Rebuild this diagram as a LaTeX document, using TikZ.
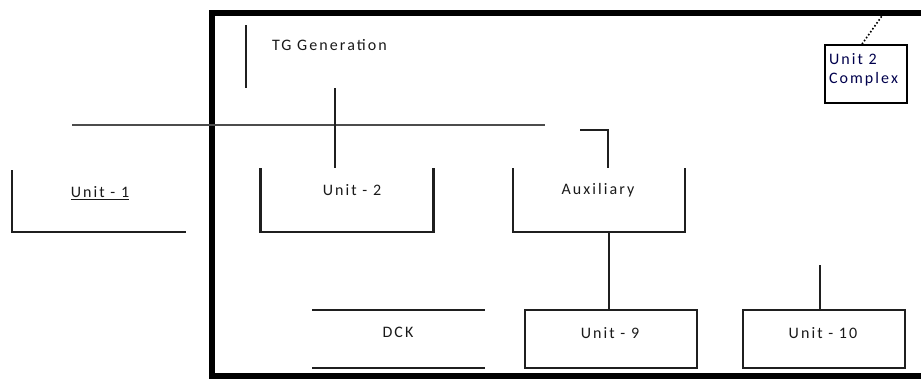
\documentclass[tikz,border=0pt]{standalone}
\usepackage{fontspec}
\setmainfont[LetterSpace=13]{Carlito}
\begin{document}
\begin{tikzpicture}[x=1pt,y=-1pt,
  lbl/.style={inner sep=0pt, outer sep=0pt, font=\fontsize{16}{19}\selectfont, text=black!90},
  frame/.style={line width=6pt, black},
  side/.style={line width=2.2pt, black!88},
  link/.style={line width=2pt, black!88},
  bus/.style={line width=1.4pt, black!70},
  area/.style={draw=none, inner sep=0pt, outer sep=0pt}
]
\useasboundingbox (0,0) rectangle (921,381);

% outer plant frame (runs off the right edge)
\draw[frame] (935,13) -- (212,13) -- (212,376) -- (935,376);

% block areas
\node[area, minimum width=184pt, minimum height=63pt] (tg) at (338,56.5) {};
\node[area, minimum width=174pt, minimum height=62pt] (u1) at (99,201) {};
\node[area, minimum width=173pt, minimum height=64pt] (u2) at (347,200) {};
\node[area, minimum width=172pt, minimum height=64pt] (aux) at (599,200) {};
\node[area, minimum width=173pt, minimum height=58pt] (dck) at (398.5,339) {};
\node[area, minimum width=172pt, minimum height=58pt] (u9) at (611,339) {};
\node[area, minimum width=162pt, minimum height=58pt] (u10) at (824,339) {};
\node[draw, line width=1.8pt, minimum width=82pt, minimum height=58pt, inner sep=0pt] (cx) at (866,74) {};

% labels
\node[lbl, anchor=west] (tgt) at (272,45) {TG Generation};
\node[lbl] (u1t) at (100,193) {\underline{Unit - 1}};
\node[lbl] (u2t) at (352,190) {Unit - 2};
\node[lbl] (auxt) at (598,190) {Auxiliary};
\node[lbl] (dckt) at (398,332) {DCK};
\node[lbl] (u9t) at (610,333) {Unit - 9};
\node[lbl] (u10t) at (823,333) {Unit - 10};
\node[lbl, align=left, anchor=north west, text=black!70!blue] (cxt) at (829,53) {Unit 2\\Complex};

% partial outlines of the blocks
\draw[side] (tg.north west) -- (tg.south west);
\draw[side] (u1.north west) -- (u1.south west) -- (u1.south east);
\draw[side] (u2.north west) -- (u2.south west) -- (u2.south east) -- (u2.north east);
\draw[side] (aux.north west) -- (aux.south west) -- (aux.south east) -- (aux.north east);
\draw[side] (dck.north west) -- (dck.north east);
\draw[side] (dck.south west) -- (dck.south east);
\draw[side] (u9.north west) rectangle (u9.south east);
\draw[side] (u10.north west) rectangle (u10.south east);

% free ends of the connectors
\coordinate (busL) at (72,125);
\coordinate (busR) at (545,125);
\coordinate (auxIn) at (580,130);
\coordinate (u10In) at (820,265);
\coordinate (top) at (884,13);

% connectors
\draw[bus] (busL) -- (busR);
\draw[link] (tg.south -| u2.north) ++(-12,0) coordinate (tgd) -- (tgd |- u2.north);
\draw[link] (auxIn) -| ([xshift=9pt]aux.north);
\draw[link] ([xshift=10pt]aux.south) -- ([xshift=10pt]aux.south |- u9.north);
\draw[link] (u10In) -- (u10In |- u10.north);
\draw[line width=1.6pt, dotted] (cx.north) ++(-4,0) -- (top);
\end{tikzpicture}
\end{document}
